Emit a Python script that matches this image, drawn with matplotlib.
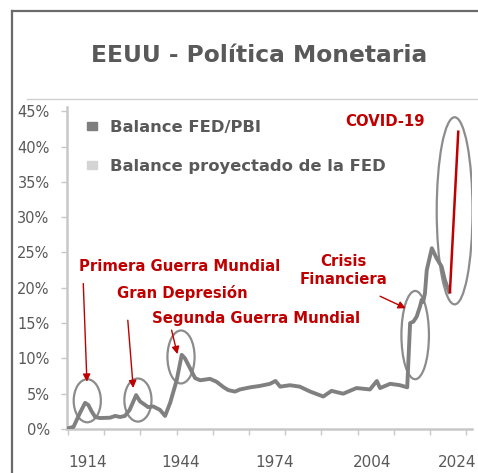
import matplotlib
matplotlib.use("Agg")
import matplotlib.pyplot as plt
import matplotlib.patches as mpatches
from matplotlib.lines import Line2D

# ---- data ----
years = [1914.0, 1915.5, 1916.4, 1917.3, 1918.7, 1919.6, 1920.5, 1921.5, 1922.8, 1925.6,
         1927.0, 1928.4, 1929.7, 1931.0, 1932.8, 1933.9, 1935.3, 1936.1, 1937.5, 1939.4,
         1940.8, 1942.2, 1944.0, 1945.4, 1946.3, 1947.7, 1949.1, 1950.5, 1953.2, 1955.0,
         1957.0, 1958.3, 1960.1, 1961.5, 1964.3, 1967.0, 1969.8, 1971.3, 1972.6, 1975.3,
         1978.0, 1980.9, 1984.5, 1986.8, 1990.0, 1993.7, 1997.4, 1999.3, 2000.2, 2003.0,
         2005.7, 2007.7, 2008.5, 2009.4, 2010.3, 2011.2, 2011.7, 2012.1, 2012.6, 2013.1,
         2014.5, 2015.8, 2017.2, 2018.1, 2019.3]
balance = [0.1, 0.3, 1.3, 2.3, 3.7, 3.4, 2.5, 1.7, 1.55, 1.6,
           1.85, 1.7, 1.85, 2.7, 4.8, 3.9, 3.4, 3.1, 3.2, 2.7,
           1.85, 3.7, 6.9, 10.5, 10.0, 8.6, 7.2, 6.9, 7.1, 6.7,
           5.9, 5.5, 5.3, 5.6, 5.9, 6.1, 6.4, 6.8, 6.0, 6.2,
           6.0, 5.3, 4.6, 5.4, 5.0, 5.8, 5.6, 6.8, 5.8, 6.4,
           6.2, 5.9, 15.0, 15.2, 15.9, 17.3, 18.3, 18.0, 19.2, 22.5,
           25.6, 24.2, 23.0, 21.1, 19.4]
covid_years = [2019.5, 2021.8]
covid_values = [19.4, 42.1]

y_ticks = [0, 5, 10, 15, 20, 25, 30, 35, 40, 45]
x_ticks = [1914, 1924, 1934, 1944, 1954, 1964, 1974, 1984, 1994, 2004, 2014, 2024]
year_labels = ["1914", "1944", "1974", "2004", "2024"]
year_label_pos = [1919.5, 1945.0, 1971.0, 1998.0, 2021.5]

ellipses = [
    ((1919.3, 4.0), 7.5, 6.1),
    ((1933.3, 4.1), 7.5, 6.1),
    ((1945.2, 10.2), 7.5, 7.5),
    ((2009.9, 13.3), 7.6, 12.5),
    ((2020.8, 30.9), 9.9, 26.5),
]
arrows = [  # (start, tip)
    ((1918.2, 20.6), (1919.2, 6.7)),
    ((1930.5, 15.4), (1932.0, 5.8)),
    ((1942.6, 14.0), (1944.2, 10.6)),
    ((2000.2, 18.8), (2007.3, 17.1)),
]
labels = [
    ("Primera Guerra Mundial", (1917.0, 23.0), "left"),
    ("Gran Depresión", (1927.5, 19.2), "left"),
    ("Segunda Guerra Mundial", (1937.2, 15.6), "left"),
    ("Crisis\nFinanciera", (1990.2, 22.4), "center"),
    ("COVID-19", (1990.5, 43.5), "left"),
]

RED = "#C00000"
GRAY_TXT = "#595959"

fig = plt.figure(figsize=(4.78, 4.73), dpi=100)
W, H = 478, 473

# frame
fig.add_artist(Line2D([12 / W, 12 / W], [0, 1 - 11 / H], color="#6a6a6a", lw=1.6))
fig.add_artist(Line2D([12 / W, 1], [1 - 11 / H, 1 - 11 / H], color="#6a6a6a", lw=1.6))
fig.add_artist(Line2D([27 / W, 1], [1 - 99 / H, 1 - 99 / H], color="#d0d0d0", lw=1.0))

fig.text(259 / W, 1 - 56 / H, "EEUU - Política Monetaria", ha="center", va="center",
         fontsize=16.8, fontweight="bold", color=GRAY_TXT, family="DejaVu Sans")

ax = fig.add_axes([67 / W, (H - 429) / H, 405 / W, (429 - 107) / H])
x0, x1 = 1913.7, 2025.6
ax.set_xlim(x0, x1)
ax.set_ylim(0, 45.6)

ax.plot(years, balance, color="#808080", lw=2.8, solid_joinstyle="round", zorder=3)
ax.plot(covid_years, covid_values, color=RED, lw=1.8, zorder=4)

for (c, w, h) in ellipses:
    ax.add_patch(mpatches.Ellipse(c, w, h, fill=False, ec="#8c8c8c", lw=1.6, zorder=2))

for (s, t) in arrows:
    ax.annotate("", xy=t, xytext=s,
                arrowprops=dict(arrowstyle="-|>", color=RED, lw=1.0,
                                mutation_scale=11, shrinkA=0, shrinkB=0), zorder=5)

for (txt, pos, ha) in labels:
    ax.text(pos[0], pos[1], txt, ha=ha, va="center", color=RED, fontsize=10.7,
            fontweight="bold", linespacing=1.25, zorder=6)

for s in ["top", "right"]:
    ax.spines[s].set_visible(False)
for s in ["left", "bottom"]:
    ax.spines[s].set_color("#c8c8c8")
    ax.spines[s].set_linewidth(1.8)

ax.set_yticks(y_ticks)
ax.set_yticklabels([f"{v}%" for v in y_ticks], fontsize=10.5, color=GRAY_TXT)
ax.tick_params(axis="y", length=4, width=1, color="#c8c8c8", pad=8.5)

ax.set_xticks(x_ticks)
ax.set_xticklabels([""] * len(x_ticks))
ax.tick_params(axis="x", which="major", length=4, width=1, color="#c8c8c8")
ax.set_xticks(year_label_pos, minor=True)
ax.set_xticklabels(year_labels, minor=True, fontsize=11, color=GRAY_TXT)
ax.tick_params(axis="x", which="minor", length=0, pad=19)

handles = [mpatches.Patch(color="#7f7f7f", label="Balance FED/PBI"),
           mpatches.Patch(color="#d4d4d4", label="Balance proyectado de la FED")]
leg = ax.legend(handles=handles, loc="upper left",
                bbox_to_anchor=(87 / W, 1 - 120 / H), bbox_transform=fig.transFigure,
                frameon=False, handlelength=0.6, handleheight=0.33, handletextpad=0.8,
                labelspacing=1.45, borderpad=0, borderaxespad=0,
                prop=dict(size=11.8, weight="bold"))
for t in leg.get_texts():
    t.set_color(GRAY_TXT)

fig.savefig("out.png", dpi=100)
